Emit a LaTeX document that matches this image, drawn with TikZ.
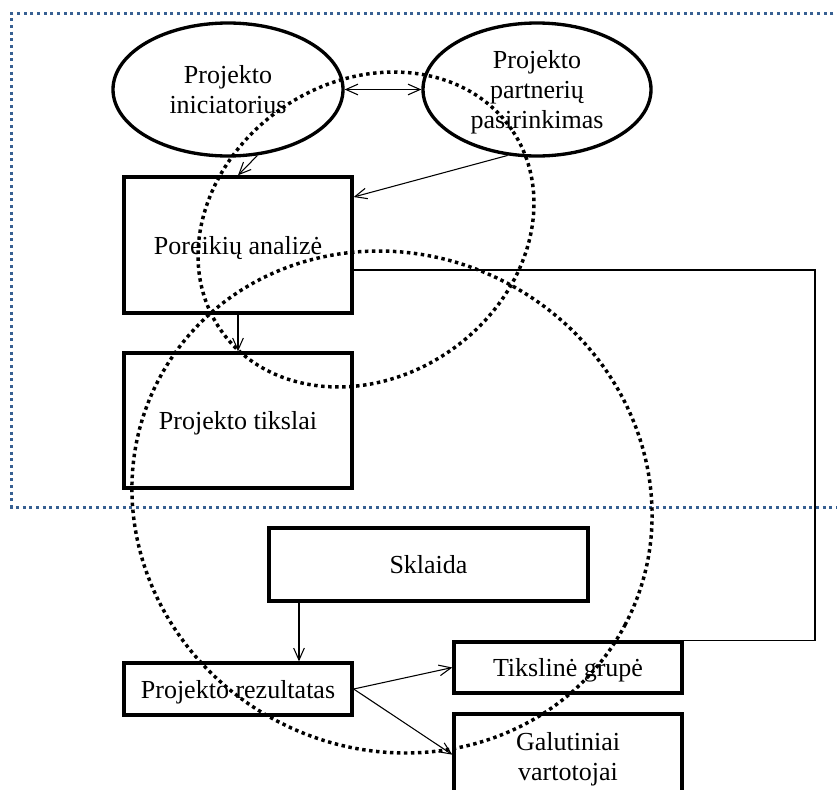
\documentclass[tikz,border=0pt]{standalone}
\usepackage{fontspec}
\setmainfont{Liberation Serif}
\usetikzlibrary{arrows.meta,shapes.geometric}
\definecolor{zoneblue}{RGB}{55,96,146}
\begin{document}
\begin{tikzpicture}[x=0.75pt,y=-0.75pt,
  every node/.style={font=\fontsize{19.5}{22.5}\selectfont, align=center, inner sep=0pt, text depth=0pt},
  stagebox/.style={draw, rectangle, line width=2.5pt, fill=white},
  stageoval/.style={draw, ellipse, line width=2.5pt, fill=white},
  link/.style={line width=0.8pt, -{Straight Barb[length=9pt,width=8pt]}},
  duallink/.style={line width=0.8pt, {Straight Barb[length=9pt,width=8pt]}-{Straight Barb[length=9pt,width=8pt]}},
  plainlink/.style={line width=0.8pt},
  dotring/.style={line width=2.6pt, dash pattern=on 2.6pt off 2.65pt},
  zone/.style={zoneblue, line width=2.25pt, dash pattern=on 2.25pt off 2.75pt}]
  \useasboundingbox (0,0) rectangle (837,789);
  \clip (0,0) rectangle (837,789);

  % planning zone frame (open to the right)
  \draw[zone] (860,13.3) -- (11.7,13.3) -- (11.7,507.5) -- (860,507.5);

  % stages
  \node[stageoval, minimum width=172.5pt, minimum height=99.75pt] (e1) at (228,89.5) {Projekto\\iniciatorius};
  \node[stageoval, minimum width=171pt, minimum height=99.75pt] (e2) at (537,89.5) {Projekto\\partnerių\\pasirinkimas};
  \node[stagebox, minimum width=171pt, minimum height=102pt] (pa) at (238,245) {Poreikių analizė};
  \node[stagebox, minimum width=171pt, minimum height=101.25pt] (pt) at (238,420.5) {Projekto tikslai};
  \node[stagebox, minimum width=239.25pt, minimum height=54.75pt] (sk) at (428.5,564.5) {Sklaida};
  \node[stagebox, minimum width=171pt, minimum height=39pt] (pr) at (238,689) {Projekto rezultatas};
  \node[stagebox, minimum width=171pt, minimum height=38.25pt] (tg) at (568,667.5) {Tikslinė grupė};
  \node[stagebox, minimum width=171pt, minimum height=63pt] (gv) at (568,756) {Galutiniai\\vartotojai};

  % connectors
  \draw[duallink] (e1.east) -- (e2.west);
  \draw[link] (e1.-66) -- (pa.north);
  \draw[link] (e2.-114) -- ([yshift=36pt]pa.east);
  \draw[link] (pa.south) -- (pt.north);
  \coordinate (rail) at (815,270);
  \draw[plainlink] ([yshift=-18.75pt]pa.east) -- (rail) |- (tg.north east);
  \coordinate (drop) at (299,0);
  \draw[link] (sk.south -| drop) -- (pr.north -| drop);
  \draw[link] (pr.east) -- (tg.west);
  \draw[link] (pr.east) -- ([yshift=1pt]gv.west);

  % overlapping dotted rings
  \draw[dotring, rotate around={34.4:(366,229.5)}] (366,229.5) ellipse [x radius=132.5pt, y radius=110.7pt];
  \draw[dotring, rotate around={-27.9:(392,502)}] (392,502) ellipse [x radius=197.6pt, y radius=185.5pt];
\end{tikzpicture}
\end{document}
